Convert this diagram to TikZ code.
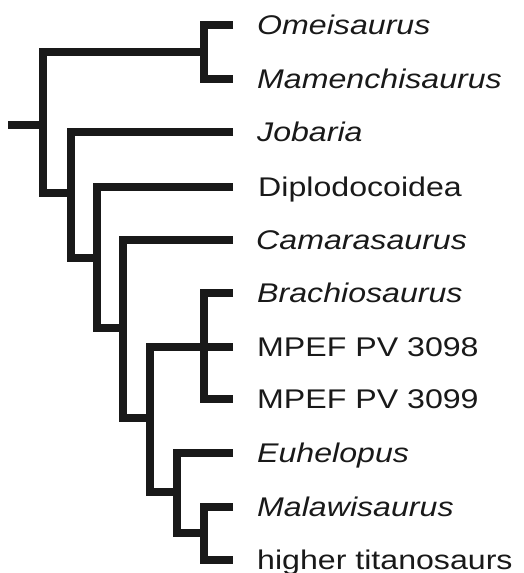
\documentclass[tikz,border=0pt]{standalone}
\usepackage{fontspec}
\setmainfont{Liberation Sans}[FakeStretch=1.19]
\begin{document}
\begin{tikzpicture}[x=1pt,y=-1pt,
  br/.style={line width=7.4pt,line join=miter,line cap=butt,color=black!90},
  lab/.style={anchor=base west,inner sep=0pt,text=black!90,font=\fontsize{27}{30}\selectfont}]
\useasboundingbox (0,0) rectangle (523,573);
% tips
\coordinate (t1) at (233,25);
\coordinate (t2) at (233,79);
\coordinate (t3) at (233,132);
\coordinate (t4) at (233,187);
\coordinate (t5) at (233,240);
\coordinate (t6) at (233,293);
\coordinate (t7) at (233,347);
\coordinate (t8) at (233,399);
\coordinate (t9) at (233,453);
\coordinate (t10) at (233,507);
\coordinate (t11) at (233,560);
% internal nodes
\coordinate (S) at (8,125);
\coordinate (R) at (43,125);
\coordinate (A) at (204,52);
\coordinate (B) at (71,193);
\coordinate (C) at (97,258);
\coordinate (D) at (123,328);
\coordinate (E) at (150,418);
\coordinate (F) at (204,347);
\coordinate (G) at (177,492);
\coordinate (H) at (204,533);
% labels
\node[lab] (l1) at (257,34.7) {\itshape Omeisaurus};
\node[lab] (l2) at (257,88.7) {\itshape Mamenchisaurus};
\node[lab] (l3) at (257,141.7) {\itshape Jobaria};
\node[lab] (l4) at (258,196.7) {Diplodocoidea};
\node[lab] (l5) at (256,249.7) {\itshape Camarasaurus};
\node[lab] (l6) at (257,302.7) {\itshape Brachiosaurus};
\node[lab] (l7) at (257,356.7) {MPEF PV 3098};
\node[lab] (l8) at (257,408.7) {MPEF PV 3099};
\node[lab] (l9) at (257,462.7) {\itshape Euhelopus};
\node[lab] (l10) at (257,516.7) {\itshape Malawisaurus};
\node[lab] (l11) at (257,569.7) {higher titanosaurs};
% branches
\draw[br] (S) -- (R);
\draw[br] (A) -| (R) |- (B);
\draw[br] (t1) -| (A) |- (t2);
\draw[br] (t3) -| (B) |- (C);
\draw[br] (t4) -| (C) |- (D);
\draw[br] (t5) -| (D) |- (E);
\draw[br] (t7) -- (F) -| (E) |- (G);
\draw[br] (t6) -| (F) |- (t8);
\draw[br] (t9) -| (G) |- (H);
\draw[br] (t10) -| (H) |- (t11);
\end{tikzpicture}
\end{document}
